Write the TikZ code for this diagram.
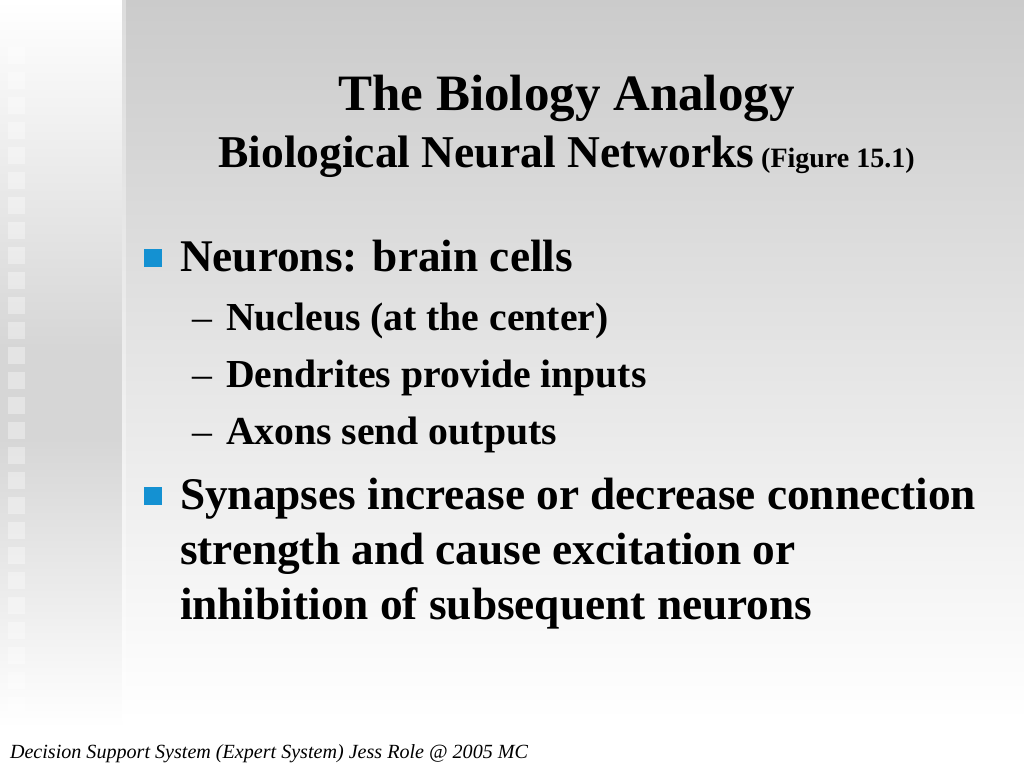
\documentclass[tikz,border=0pt]{standalone}
\usepackage{fontspec}
\setmainfont{Liberation Serif}
\usepackage{graphicx}
\definecolor{bulletblue}{RGB}{20,145,210}
\definecolor{panelgray}{RGB}{203,203,203}
\definecolor{stripgray}{RGB}{214,214,214}
\begin{document}
\begin{tikzpicture}[x=1pt,y=1pt,
  txt/.style={inner sep=0pt, outer sep=0pt, text=black},
  titlefont/.style={font=\fontsize{51}{51}\selectfont\bfseries},
  bulletfont/.style={font=\fontsize{45.3}{45.3}\selectfont\bfseries},
  subfont/.style={font=\fontsize{39.7}{39.7}\selectfont\bfseries},
  dashfont/.style={font=\fontsize{39.7}{39.7}\selectfont},
  bsquare/.style={fill=bulletblue, draw=none},
  filmsq/.style={fill=white, fill opacity=0.35, draw=none}]
\useasboundingbox (0,0) rectangle (1024,768);
% background
\fill[white] (0,0) rectangle (1024,768);
% left strip
\shade[top color=stripgray, bottom color=white] (0,40) rectangle (122,330);
\shade[top color=white, bottom color=stripgray] (0,420) rectangle (122,768);
\fill[stripgray] (0,329) rectangle (122,421);
% film squares
\foreach \k in {0,...,26}{
  \pgfmathsetmacro{\yt}{768-47-25*\k}
  \fill[filmsq] (8,\yt) rectangle (25,\yt-17);
}
% main panel
\shade[top color=panelgray, bottom color=white] (122,48) rectangle (1024,768);
\fill[white, opacity=0.35] (122,0) rectangle (126,768);
% title
\node[txt, titlefont, anchor=base] (title) at (566.5,657) {The Biology Analogy};
\node[txt, anchor=base] (subtitle) at (566.5,600) {{\fontsize{45.5}{45.5}\selectfont\bfseries Biological Neural Networks}{\fontsize{28}{28}\selectfont\bfseries\ (Figure 15.1)}};
% bullet 1
\fill[bsquare] (144,519) rectangle (162,501);
\node[txt, bulletfont, anchor=base west] (b1) at (180,496) {Neurons: brain cells};
\node[txt, dashfont, anchor=base west] (d1) at (192,437) {–};
\node[txt, subfont, anchor=base west] (s1) at (226,437) {Nucleus (at the center)};
\node[txt, dashfont, anchor=base west] (d2) at (192,380) {–};
\node[txt, subfont, anchor=base west] (s2) at (226,380) {Dendrites provide inputs};
\node[txt, dashfont, anchor=base west] (d3) at (192,323) {–};
\node[txt, subfont, anchor=base west] (s3) at (226,323) {Axons send outputs};
% bullet 2
\fill[bsquare] (144,281) rectangle (162,263);
\node[txt, bulletfont, anchor=base west] (b2a) at (180,258) {Synapses increase or decrease connection};
\node[txt, bulletfont, anchor=base west] (b2b) at (180,203) {strength and cause excitation or};
\node[txt, bulletfont, anchor=base west] (b2c) at (180,148) {inhibition of subsequent neurons};
% footer
\node[txt, anchor=base west] (footer) at (10,10) {\resizebox{518pt}{!}{\itshape Decision Support System (Expert System) Jess Role @ 2005 MC}};
\end{tikzpicture}
\end{document}
